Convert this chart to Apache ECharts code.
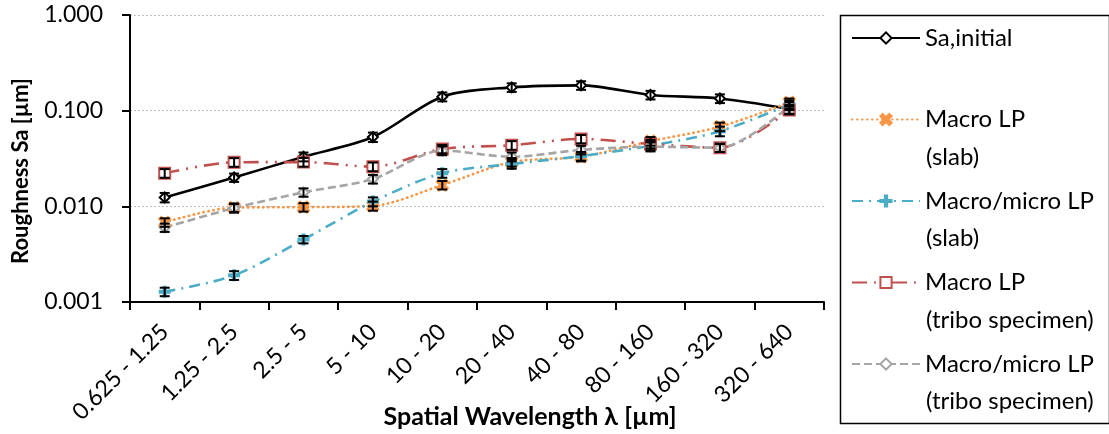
<!DOCTYPE html>
<html>
<head>
<meta charset="utf-8">
<script src="https://cdn.jsdelivr.net/npm/echarts@6/dist/echarts.min.js"></script>
<style>
  html, body { margin: 0; padding: 0; background: #fff; }
  #chart { width: 1109px; height: 434px; }
</style>
</head>
<body>
<div id="chart"></div>
<script>
var FONT = "Lato";
var categories = ["0.625 - 1.25", "1.25 - 2.5", "2.5 - 5", "5 - 10", "10 - 20",
  "20 - 40", "40 - 80", "80 - 160", "160 - 320", "320 - 640"];

var saInitial = [0.0124, 0.020, 0.033, 0.053, 0.140, 0.175, 0.184, 0.146, 0.134, 0.104];
var saInitialErr = [0.0014, 0.002, 0.0035, 0.006, 0.015, 0.018, 0.019, 0.015, 0.014, 0.011];
var macroSlab = [0.0068, 0.0097, 0.0098, 0.0101, 0.0167, 0.029, 0.033, 0.048, 0.068, 0.122];
var macroSlabErr = [0.0007, 0.001, 0.001, 0.0011, 0.0017, 0.003, 0.0035, 0.005, 0.007, 0.012];
var microSlab = [0.00128, 0.0019, 0.0045, 0.0112, 0.0222, 0.0277, 0.0335, 0.043, 0.061, 0.116];
var microSlabErr = [0.00013, 0.0002, 0.0004, 0.0012, 0.0023, 0.003, 0.0035, 0.0045, 0.007, 0.012];
var macroTribo = [0.0222, 0.0289, 0.029, 0.026, 0.0398, 0.0435, 0.0506, 0.0449, 0.041, 0.1016];
var macroTriboErr = [0.0023, 0.003, 0.003, 0.0027, 0.004, 0.0045, 0.005, 0.0045, 0.004, 0.01];
var microTribo = [0.0060, 0.0096, 0.0140, 0.0193, 0.0382, 0.033, 0.0389, 0.042, 0.041, 0.112];
var microTriboErr = [0.0006, 0.001, 0.0014, 0.002, 0.004, 0.0035, 0.004, 0.0045, 0.004, 0.011];

var yTicks = [0.001, 0.01, 0.1, 1];

var SYM_X = "path://M0,2L2,0L5,3L8,0L10,2L7,5L10,8L8,10L5,7L2,10L0,8L3,5Z";
var SYM_PLUS = "path://M4,0H6V4H10V6H6V10H4V6H0V4H4Z";

var seriesDefs = [
  { name: "Sa,initial", sub: "", data: saInitial, err: saInitialErr, color: "#000000",
    dash: "solid", cap: "butt", symbol: "emptyDiamond", size: 10 },
  { name: "Macro LP", sub: "(slab)", data: macroSlab, err: macroSlabErr, color: "#F79646",
    dash: [0.5, 4.5], cap: "round", symbol: SYM_X, size: 11 },
  { name: "Macro/micro LP", sub: "(slab)", data: microSlab, err: microSlabErr, color: "#4BACC6",
    dash: [11, 6, 2, 6], cap: "butt", symbol: SYM_PLUS, size: 10 },
  { name: "Macro LP ", sub: "(tribo specimen)", data: macroTribo, err: macroTriboErr, color: "#C0504D",
    dash: [15, 7, 2, 7, 2, 7], cap: "butt", symbol: "emptyRect", size: 11 },
  { name: "Macro/micro LP ", sub: "(tribo specimen)", data: microTribo, err: microTriboErr, color: "#A5A5A5",
    dash: [8, 4], cap: "butt", symbol: "emptyDiamond", size: 10 }
];

function renderErr(params, api) {
  var i = api.value(0);
  var top = api.coord([i, api.value(2)]);
  var bot = api.coord([i, api.value(1)]);
  var w = 5;
  var st = { stroke: "#000", lineWidth: 2 };
  return {
    type: "group",
    children: [
      { type: "line", shape: { x1: top[0], y1: top[1], x2: bot[0], y2: bot[1] }, style: st },
      { type: "line", shape: { x1: top[0] - w, y1: top[1], x2: top[0] + w, y2: top[1] }, style: st },
      { type: "line", shape: { x1: bot[0] - w, y1: bot[1], x2: bot[0] + w, y2: bot[1] }, style: st }
    ]
  };
}

var series = [];
seriesDefs.forEach(function (d) {
  series.push({
    name: d.name,
    type: "line",
    data: d.data,
    smooth: 0.3,
    symbol: d.symbol,
    symbolSize: d.size,
    showAllSymbol: true,
    z: 3,
    lineStyle: { color: d.color, width: 2.6, type: d.dash, cap: d.cap },
    itemStyle: { color: d.color, borderColor: d.color, borderWidth: 2 },
    emphasis: { disabled: true }
  });
});
seriesDefs.forEach(function (d) {
  series.push({
    type: "custom",
    z: 4,
    silent: true,
    renderItem: renderErr,
    data: d.data.map(function (v, i) { return [i, v - d.err[i], v + d.err[i]]; })
  });
});

var graphics = [{
  type: "rect", left: 838, top: 13,
  shape: { width: 269, height: 408 },
  style: { fill: "none", stroke: "#000", lineWidth: 1.5 }
}, {
  type: "text", x: 21, y: 171, rotation: Math.PI / 2,
  style: { text: "Roughness Sa [µm]", font: "bold 22px " + FONT, fill: "#000",
    align: "center", verticalAlign: "middle" }
}, {
  type: "text", x: 530, y: 417,
  style: { text: "Spatial Wavelength λ [µm]", font: "bold 25px " + FONT, fill: "#000",
    align: "center", verticalAlign: "middle" }
}];
var subY = [0, 157, 238, 320, 401];
seriesDefs.forEach(function (d, i) {
  if (d.sub) {
    graphics.push({
      type: "text", x: 926, y: subY[i],
      style: { text: d.sub, font: "24px " + FONT, fill: "#000", verticalAlign: "middle" }
    });
  }
});

var chart = echarts.init(document.getElementById("chart"));
chart.setOption({
  animation: false,
  backgroundColor: "#fff",
  textStyle: { fontFamily: FONT, color: "#000" },
  grid: { left: 130, top: 15, right: 285, bottom: 132, containLabel: false, outerBoundsMode: "none" },
  legend: {
    orient: "vertical",
    left: 851,
    top: 25,
    padding: 0,
    itemWidth: 68,
    itemHeight: 14,
    itemGap: 55.5,
    selectedMode: false,
    data: seriesDefs.map(function (d) { return d.name; }),
    textStyle: { fontFamily: FONT, fontSize: 24, color: "#000", lineHeight: 26 }
  },
  xAxis: {
    type: "category",
    data: categories,
    boundaryGap: true,
    axisLine: { lineStyle: { color: "#000", width: 2 } },
    axisTick: { show: true, length: 8, lineStyle: { color: "#000", width: 2 } },
    axisLabel: { rotate: 45, fontSize: 23, color: "#000", margin: 26, fontFamily: FONT },
    splitLine: { show: false }
  },
  yAxis: {
    type: "log",
    logBase: 10,
    min: yTicks[0],
    max: yTicks[yTicks.length - 1],
    axisLine: { show: true, lineStyle: { color: "#000", width: 2 } },
    axisTick: { show: true, length: 8, lineStyle: { color: "#000", width: 2 } },
    axisLabel: {
      fontSize: 23, color: "#000", margin: 27, fontFamily: FONT,
      formatter: function (v) { return Number(v).toFixed(3); }
    },
    splitLine: { show: true, lineStyle: { color: "#BFBFBF", type: [2, 2], width: 1 } },
    minorTick: { show: false }
  },
  graphic: graphics,
  series: series
});
</script>
</body>
</html>
